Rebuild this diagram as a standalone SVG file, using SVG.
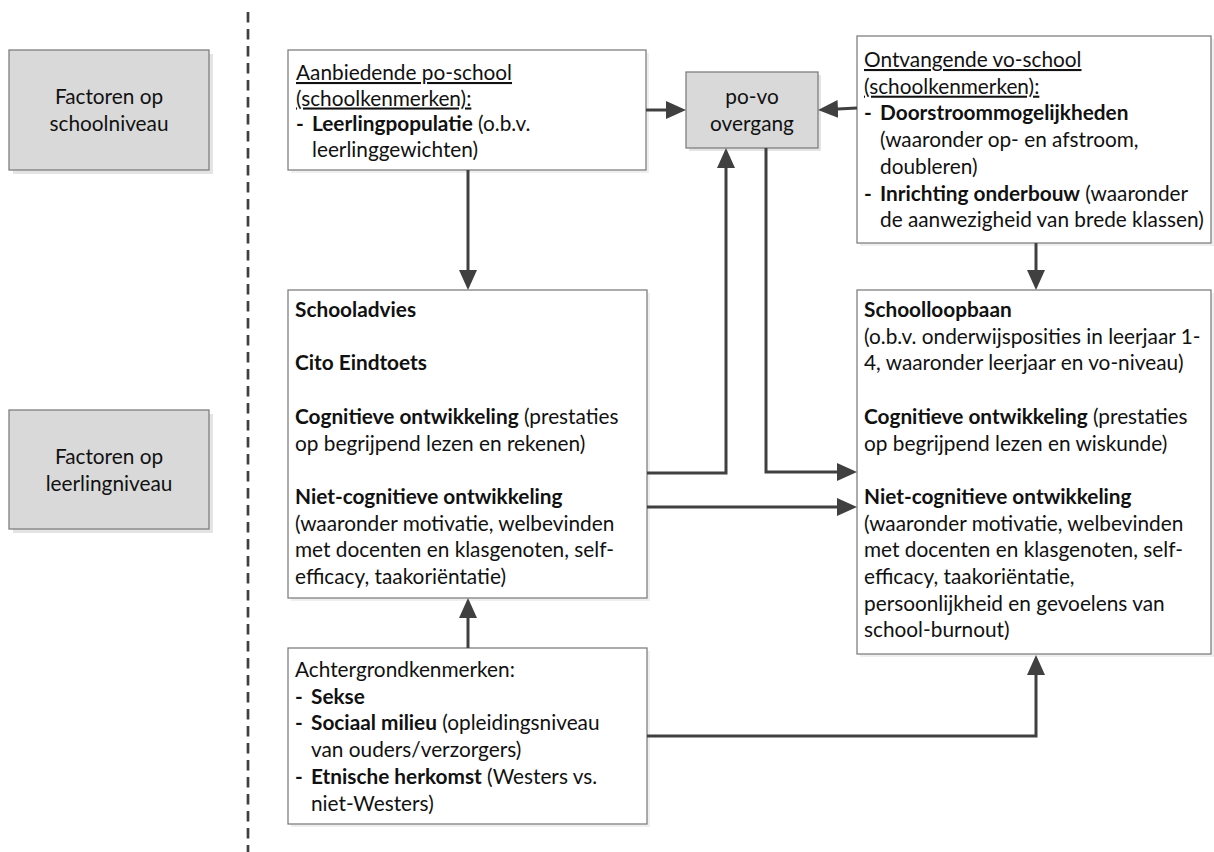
<svg xmlns="http://www.w3.org/2000/svg" width="1214" height="852" viewBox="0 0 1214 852">
<defs>
<marker id="ah" markerUnits="userSpaceOnUse" markerWidth="20" markerHeight="18" refX="10" refY="9" orient="auto" viewBox="0 0 20 18">
<path d="M0,0 L20,9 L0,18 z" fill="#404040"/>
</marker>
</defs>
<style>
text{font-family:Lato,"Open Sans","Liberation Sans",sans-serif;font-size:20.8px;fill:#111}
.b{font-weight:bold}
.u{text-decoration:underline}
.c{text-anchor:middle}
.gray{fill:#d9d9d9;stroke:#7f7f7f;stroke-width:1.3}
.white{fill:#fff;stroke:#808080;stroke-width:1.3}
.sh{fill:#e4e4e4}
.shw{fill:#efefef}
.conn path{fill:none;stroke:#404040;stroke-width:3;marker-end:url(#ah)}
.dash{stroke:#404040;stroke-width:2.7;stroke-dasharray:10.5 6.5}
</style>
<rect width="1214" height="852" fill="#fff"/>
<line class="dash" x1="248" y1="12" x2="248" y2="852"/>

<g id="level-school">
<rect class="sh" x="13" y="54" width="200" height="120"/>
<rect class="gray" x="9" y="50" width="200" height="120"/>
<text class="c" x="109" y="104">Factoren op</text>
<text class="c" x="109" y="131">schoolniveau</text>
</g>

<g id="level-leerling">
<rect class="sh" x="13" y="414" width="200" height="119"/>
<rect class="gray" x="9" y="410" width="200" height="119"/>
<text class="c" x="109" y="464">Factoren op</text>
<text class="c" x="109" y="491">leerlingniveau</text>
</g>

<g id="po-school">
<rect class="shw" x="291" y="53" width="358" height="120"/>
<rect class="white" x="288" y="50" width="358" height="120"/>
<text class="u" x="296" y="80">Aanbiedende po-school</text>
<text class="u" x="296" y="105.5">(schoolkenmerken):</text>
<text x="296" y="131" class="b">-</text>
<text x="312" y="131"><tspan class="b">Leerlingpopulatie</tspan> (o.b.v.</text>
<text x="312" y="156.5">leerlinggewichten)</text>
</g>

<g id="po-vo">
<rect class="sh" x="689" y="75" width="132" height="76"/>
<rect class="gray" x="686" y="72" width="132" height="76"/>
<text class="c" x="752" y="104">po-vo</text>
<text class="c" x="752" y="131">overgang</text>
</g>

<g id="vo-school">
<rect class="shw" x="860" y="39" width="354" height="207"/>
<rect class="white" x="857" y="36" width="354" height="207"/>
<text class="u" x="864" y="67">Ontvangende vo-school</text>
<text class="u" x="864" y="93.7">(schoolkenmerken):</text>
<text x="864" y="120.4" class="b">-</text>
<text x="880" y="120.4" class="b">Doorstroommogelijkheden</text>
<text x="880" y="147">(waaronder op- en afstroom,</text>
<text x="880" y="173.8">doubleren)</text>
<text x="864" y="200.5" class="b">-</text>
<text x="880" y="200.5"><tspan class="b">Inrichting onderbouw</tspan> (waaronder</text>
<text x="880" y="227.2">de aanwezigheid van brede klassen)</text>
</g>

<g id="schooladvies">
<rect class="shw" x="291" y="293" width="359" height="308"/>
<rect class="white" x="288" y="290" width="359" height="308"/>
<text x="295" y="317" class="b">Schooladvies</text>
<text x="295" y="370.4" class="b">Cito Eindtoets</text>
<text x="295" y="423.8"><tspan class="b">Cognitieve ontwikkeling</tspan> (prestaties</text>
<text x="295" y="450.5">op begrijpend lezen en rekenen)</text>
<text x="295" y="503.9" class="b">Niet-cognitieve ontwikkeling</text>
<text x="295" y="530.6">(waaronder motivatie, welbevinden</text>
<text x="295" y="557.3">met docenten en klasgenoten, self-</text>
<text x="295" y="584">efficacy, taakoriëntatie)</text>
</g>

<g id="schoolloopbaan">
<rect class="shw" x="860" y="293" width="354" height="364"/>
<rect class="white" x="857" y="290" width="354" height="364"/>
<text x="864" y="317" class="b">Schoolloopbaan</text>
<text x="864" y="343.7">(o.b.v. onderwijsposities in leerjaar 1-</text>
<text x="864" y="370.4">4, waaronder leerjaar en vo-niveau)</text>
<text x="864" y="423.8"><tspan class="b">Cognitieve ontwikkeling</tspan> (prestaties</text>
<text x="864" y="450.5">op begrijpend lezen en wiskunde)</text>
<text x="864" y="503.9" class="b">Niet-cognitieve ontwikkeling</text>
<text x="864" y="530.6">(waaronder motivatie, welbevinden</text>
<text x="864" y="557.3">met docenten en klasgenoten, self-</text>
<text x="864" y="584">efficacy, taakoriëntatie,</text>
<text x="864" y="610.7">persoonlijkheid en gevoelens van</text>
<text x="864" y="637.4">school-burnout)</text>
</g>

<g id="achtergrond">
<rect class="shw" x="291" y="651" width="359" height="176"/>
<rect class="white" x="288" y="648" width="359" height="176"/>
<text x="295" y="677">Achtergrondkenmerken:</text>
<text x="295" y="703.7" class="b">-</text>
<text x="311" y="703.7" class="b">Sekse</text>
<text x="295" y="730.4" class="b">-</text>
<text x="311" y="730.4"><tspan class="b">Sociaal milieu</tspan> (opleidingsniveau</text>
<text x="311" y="757">van ouders/verzorgers)</text>
<text x="295" y="783.8" class="b">-</text>
<text x="311" y="783.8"><tspan class="b">Etnische herkomst</tspan> (Westers vs.</text>
<text x="311" y="810.5">niet-Westers)</text>
</g>

<g id="connectors" class="conn">
<path d="M646,110 H676"/>
<path d="M857,108 L828,109.5"/>
<path d="M468,170 V280"/>
<path d="M647,473 H726 V158"/>
<path d="M766,148 V472 H847"/>
<path d="M647,507 H847"/>
<path d="M468,648 V608"/>
<path d="M647,736 H1036 V665"/>
<path d="M1036,243 V280"/>
</g>
</svg>
